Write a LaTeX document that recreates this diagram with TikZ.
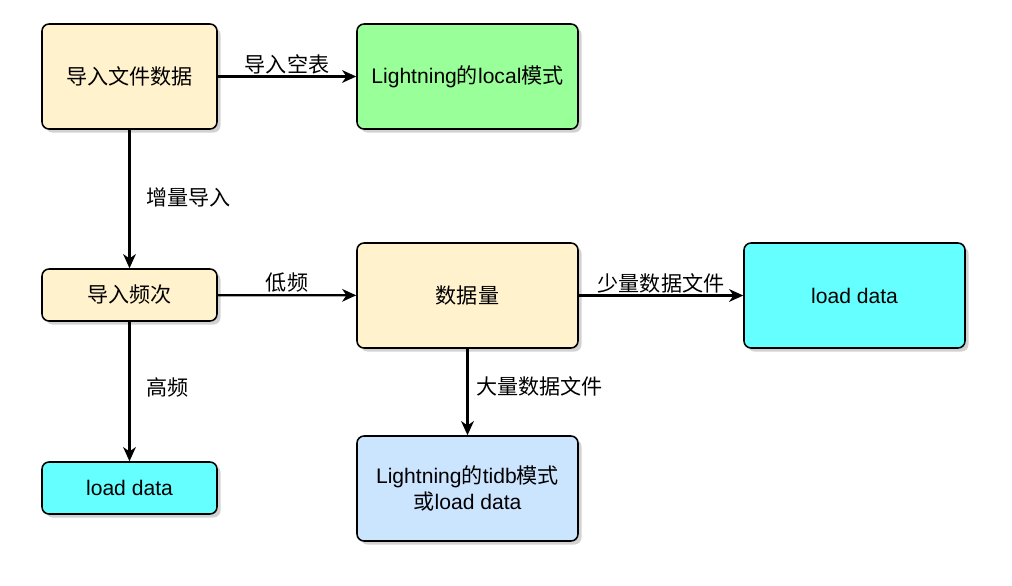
\documentclass[tikz,border=0pt]{standalone}
\usepackage{fontspec}
\setmainfont{Liberation Sans}
\newfontfamily\cjk{Noto Sans CJK SC}
\usetikzlibrary{arrows.meta,shadows}
\definecolor{boxyellow}{HTML}{FFF2CC}
\definecolor{boxgreen}{HTML}{99FF99}
\definecolor{boxcyan}{HTML}{66FFFF}
\definecolor{boxblue}{HTML}{CCE5FF}
\begin{document}
\begin{tikzpicture}[x=0.025cm,y=-0.025cm,
  box/.style={draw=black, line width=1.1pt, rounded corners=5pt, align=center,
    font=\fontsize{15pt}{19pt}\selectfont,
    drop shadow={shadow xshift=2.5pt, shadow yshift=-2.5pt, fill=black!35}},
  flow/.style={line width=1.6pt, -{Stealth[length=10pt,width=9pt,inset=3pt]}},
  lbl/.style={font=\cjk\fontsize{15pt}{19pt}\selectfont}]
\useasboundingbox (0,0) rectangle (1012,585);
\node[box, fill=boxyellow, minimum width=175*0.025cm, minimum height=105*0.025cm] (file) at (129.5,76.5) {\cjk 导入文件数据};
\node[box, fill=boxgreen, minimum width=221*0.025cm, minimum height=105*0.025cm] (local) at (467.5,76.5) {Lightning{\cjk 的}local{\cjk 模式}};
\node[box, fill=boxyellow, minimum width=175*0.025cm, minimum height=52*0.025cm] (freq) at (129.5,295) {\cjk 导入频次};
\node[box, fill=boxyellow, minimum width=221*0.025cm, minimum height=105*0.025cm] (size) at (467.5,295.5) {\cjk 数据量};
\node[box, fill=boxcyan, minimum width=221*0.025cm, minimum height=105*0.025cm] (small) at (854.5,295.5) {load data};
\node[box, fill=boxcyan, minimum width=175*0.025cm, minimum height=52*0.025cm] (high) at (129.5,488) {load data};
\node[box, fill=boxblue, minimum width=221*0.025cm, minimum height=105*0.025cm] (tidb) at (467.5,488.5) {Lightning{\cjk 的}tidb{\cjk 模式}\\{\cjk 或}load data};
\draw[flow] (file) -- node[lbl, above, inner sep=1pt] {导入空表} (local);
\draw[flow] (file) -- node[lbl, right, xshift=8pt, yshift=1pt] {增量导入} (freq);
\draw[flow] (freq) -- node[lbl, above, inner sep=1pt] {低频} (size);
\draw[flow] (freq) -- node[lbl, right, xshift=8pt, yshift=3pt] {高频} (high);
\draw[flow] (size) -- node[lbl, above, inner sep=1pt] {少量数据文件} (small);
\draw[flow] (size) -- node[lbl, right, xshift=2pt, yshift=4pt] {大量数据文件} (tidb);
\end{tikzpicture}
\end{document}
